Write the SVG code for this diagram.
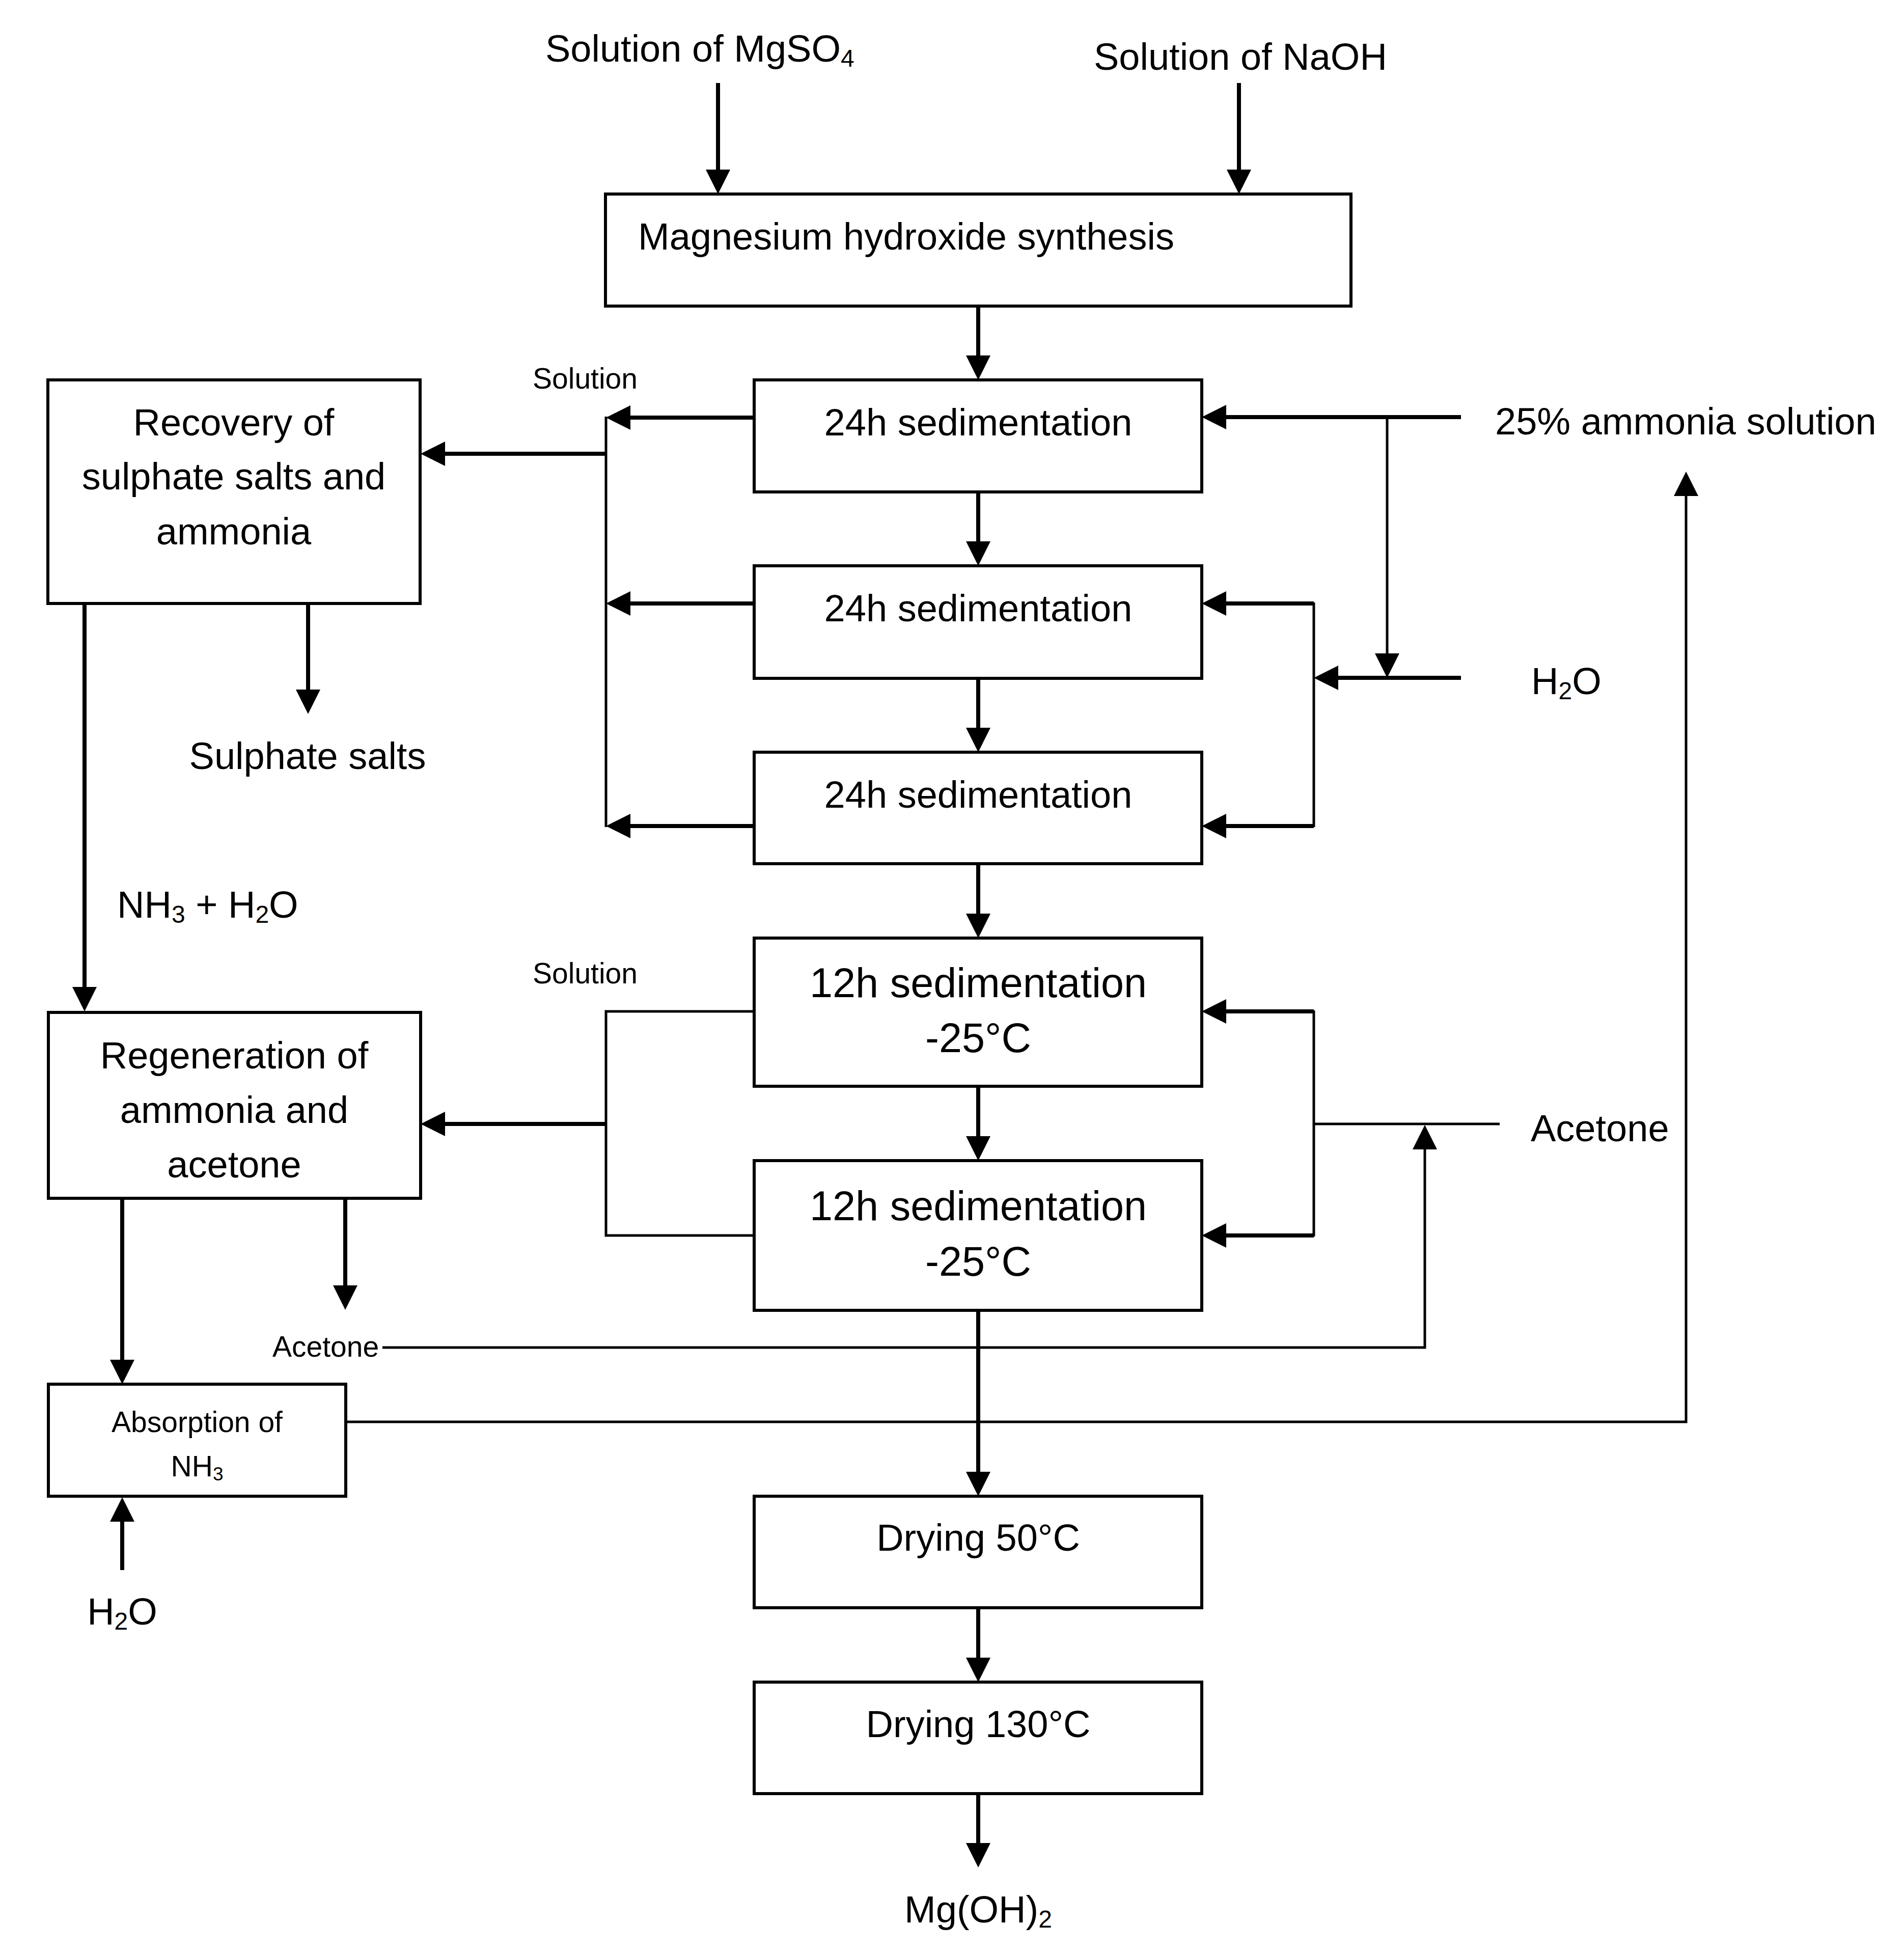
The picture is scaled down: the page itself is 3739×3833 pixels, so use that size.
<svg xmlns="http://www.w3.org/2000/svg" width="3739" height="3833" viewBox="0 0 3739 3833">
<style>
.t{font-family:"Liberation Sans",Arial,sans-serif;font-size:74px;fill:#000}
.big{font-size:81px}
.sm{font-size:57px}
.sub{font-size:48px}
.ssub{font-size:37px}
.m{text-anchor:middle}
.box{fill:#fff;stroke:#000;stroke-width:6}
.a{fill:none;stroke:#000;stroke-width:8;marker-end:url(#ah)}
.a5{fill:none;stroke:#000;stroke-width:5;marker-end:url(#ah)}
.l{fill:none;stroke:#000;stroke-width:5}
</style>
<defs>
<marker id="ah" markerUnits="userSpaceOnUse" viewBox="0 0 48 48" markerWidth="48" markerHeight="48" refX="8" refY="24" orient="auto">
<path d="M0,0 L48,24 L0,48 z" fill="#000"/>
</marker>
</defs>
<rect x="0" y="0" width="3739" height="3833" fill="#fff"/>
<g id="connectors">
<path class="a" d="M1410,163 V341"/>
<path class="a" d="M2433,163 V341"/>
<path class="a" d="M1921,601 V706"/>
<path class="a" d="M1921,966 V1071"/>
<path class="a" d="M1921,1332 V1437"/>
<path class="a" d="M1921,1696 V1802"/>
<path class="a" d="M1921,2133 V2239"/>
<path class="a" d="M1921,2573 V2898"/>
<path class="a" d="M1921,3157 V3263"/>
<path class="a" d="M1921,3522 V3627"/>
<path class="a" d="M1481,820 H1230"/>
<path class="a" d="M1481,1185 H1230"/>
<path class="a" d="M1481,1622 H1230"/>
<path class="l" d="M1190,818 V1624"/>
<path class="a" d="M1190,891 H866"/>
<path class="a" d="M2869,819 H2400"/>
<path class="a5" d="M2724,819 V1291"/>
<path class="a" d="M2869,1331 H2620"/>
<path class="l" d="M2580,1183 V1624"/>
<path class="a" d="M2580,1185 H2400"/>
<path class="a" d="M2580,1622 H2400"/>
<path class="a" d="M166,1185 V1946"/>
<path class="a" d="M605,1185 V1362"/>
<path class="l" d="M1481,1986 H1190 V2426 H1481"/>
<path class="a" d="M1190,2207 H866"/>
<path class="l" d="M2580,1984 V2428"/>
<path class="a" d="M2580,1986 H2400"/>
<path class="a" d="M2580,2426 H2400"/>
<path class="l" d="M2945,2207 H2580"/>
<path class="a5" d="M751,2646 H2798 V2249"/>
<path class="a" d="M240,2353 V2678"/>
<path class="a" d="M678,2353 V2532"/>
<path class="a5" d="M679,2792 H3311 V966"/>
<path class="a" d="M240,3083 V2980"/>
</g>
<g id="synthesis">
<rect class="box" x="1189" y="381" width="1464" height="220"/>
<text class="t" x="1253" y="490">Magnesium hydroxide synthesis</text>
</g>
<g id="sed1">
<rect class="box" x="1481" y="746" width="879" height="220"/>
<text class="t m" x="1921" y="855">24h sedimentation</text>
</g>
<g id="sed2">
<rect class="box" x="1481" y="1111" width="879" height="221"/>
<text class="t m" x="1921" y="1220">24h sedimentation</text>
</g>
<g id="sed3">
<rect class="box" x="1481" y="1477" width="879" height="219"/>
<text class="t m" x="1921" y="1586">24h sedimentation</text>
</g>
<g id="sed12a">
<rect class="box" x="1481" y="1842" width="879" height="291"/>
<text class="t big m" x="1921" y="1958">12h sedimentation</text>
<text class="t big m" x="1921" y="2066">-25°C</text>
</g>
<g id="sed12b">
<rect class="box" x="1481" y="2279" width="879" height="294"/>
<text class="t big m" x="1921" y="2396">12h sedimentation</text>
<text class="t big m" x="1921" y="2505">-25°C</text>
</g>
<g id="dry50">
<rect class="box" x="1481" y="2938" width="879" height="219"/>
<text class="t m" x="1921" y="3045">Drying 50°C</text>
</g>
<g id="dry130">
<rect class="box" x="1481" y="3303" width="879" height="219"/>
<text class="t m" x="1921" y="3411">Drying 130°C</text>
</g>
<g id="recovery">
<rect class="box" x="94" y="746" width="731" height="439"/>
<text class="t m" x="459" y="855">Recovery of</text>
<text class="t m" x="459" y="961">sulphate salts and</text>
<text class="t m" x="459" y="1069">ammonia</text>
</g>
<g id="regeneration">
<rect class="box" x="95" y="1988" width="731" height="365"/>
<text class="t m" x="460" y="2098">Regeneration of</text>
<text class="t m" x="460" y="2205">ammonia and</text>
<text class="t m" x="460" y="2312">acetone</text>
</g>
<g id="absorption">
<rect class="box" x="95" y="2718" width="584" height="220"/>
<text class="t sm m" x="387" y="2812">Absorption of</text>
<text class="t sm m" x="387" y="2899">NH<tspan class="ssub" dy="8">3</tspan></text>
</g>
<g id="labels">
<text class="t" x="1071" y="121">Solution of MgSO<tspan class="sub" dy="10">4</tspan></text>
<text class="t" x="2148" y="137">Solution of NaOH</text>
<text class="t sm" x="1046" y="763">Solution</text>
<text class="t sm" x="1046" y="1931">Solution</text>
<text class="t" x="2936" y="853">25% ammonia solution</text>
<text class="t" x="3007" y="1363">H<tspan class="sub" dy="10">2</tspan><tspan dy="-10">O</tspan></text>
<text class="t" x="3006" y="2241">Acetone</text>
<text class="t m" x="604" y="1510">Sulphate salts</text>
<text class="t" x="230" y="1802">NH<tspan class="sub" dy="10">3</tspan><tspan dy="-10"> + H</tspan><tspan class="sub" dy="10">2</tspan><tspan dy="-10">O</tspan></text>
<text class="t sm" x="535" y="2664">Acetone</text>
<text class="t m" x="240" y="3190">H<tspan class="sub" dy="10">2</tspan><tspan dy="-10">O</tspan></text>
<text class="t m" x="1921" y="3775">Mg(OH)<tspan class="sub" dy="10">2</tspan></text>
</g>
</svg>
